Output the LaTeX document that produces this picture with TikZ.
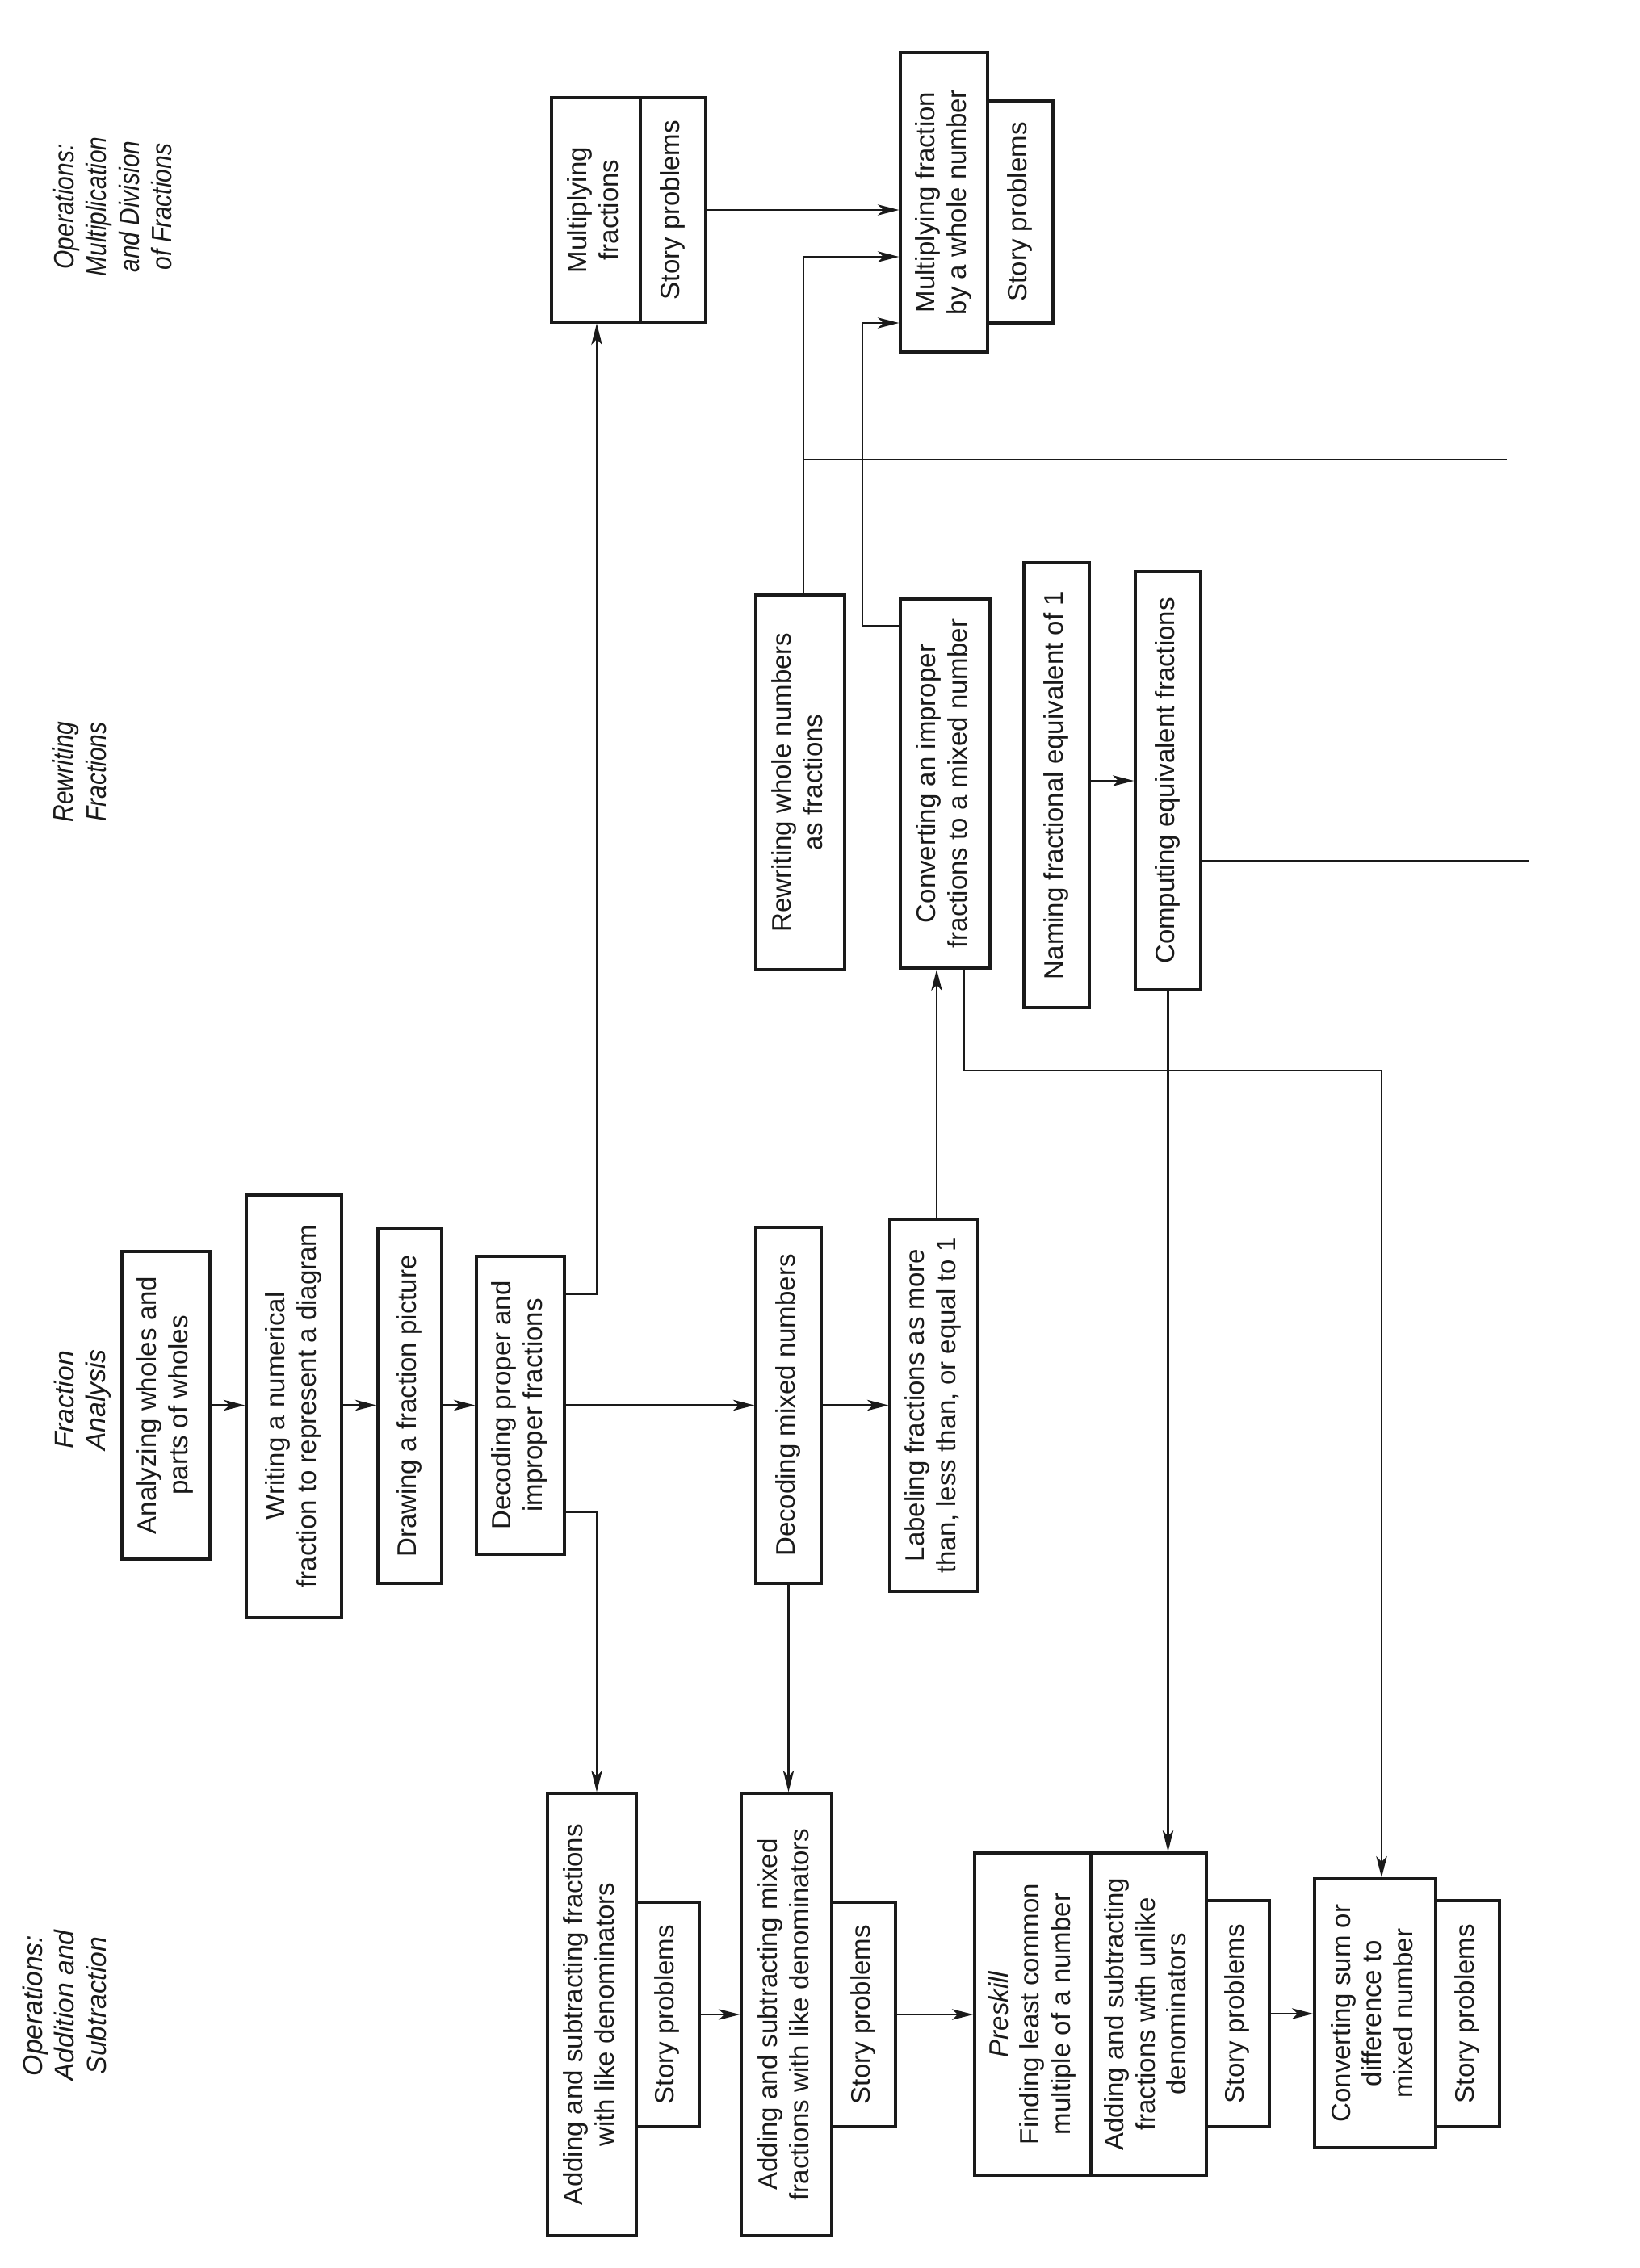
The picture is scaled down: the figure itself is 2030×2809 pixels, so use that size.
\documentclass[tikz,border=0pt]{standalone}
\usepackage{fontspec}
\setmainfont{Liberation Sans}
\newfontfamily\condfont[FakeStretch=0.86]{Liberation Sans}
\usetikzlibrary{arrows.meta}
\definecolor{ink}{HTML}{1A1A1A}
\newcommand\rt[1]{\rotatebox{90}{\begin{tabular}{@{}c@{}}#1\end{tabular}}}
\newcommand\bx[6]{\node[box, minimum width={(#4-#2)*0.1mm}, minimum height={(#5-#3)*0.1mm}] (#1) at ({(#2+#4)/2},{(#3+#5)/2}) {\rt{#6}};}
\begin{document}
\begin{tikzpicture}[x=0.1mm,y=-0.1mm,
  box/.style={draw=ink, line width=0.95pt, inner sep=0pt, text=ink,
    font=\fontsize{9.4}{11}\selectfont},
  head/.style={inner sep=0pt, text=ink, font=\fontsize{9.6}{11.2}\selectfont\itshape},
  conhead/.style={inner sep=0pt, text=ink, font=\fontsize{9.9}{11.4}\selectfont\condfont\itshape},
  ln/.style={draw=ink, line width=0.75pt},
  arr/.style={ln, -{Stealth[length=7.5pt, width=3.8pt, inset=2pt]}}]
\fill[white] (0,0) rectangle (2030,2809);
\useasboundingbox (0,0) rectangle (2030,2809);

% headings
\node[conhead] (h1) at (144,256) {\rt{Operations:\\Multiplication\\and Division\\of Fractions}};
\node[conhead] (h2) at (103,956) {\rt{Rewriting\\Fractions}};
\node[head] (h3) at (103,1734) {\rt{Fraction\\Analysis}};
\node[head] (h4) at (84,2484) {\rt{Operations:\\Addition and\\Subtraction}};

% fraction analysis row
\bx{A}{151}{1550}{260}{1931}{Analyzing wholes and\\parts of wholes}
\bx{B}{305}{1480}{423}{2003}{Writing a numerical\\fraction to represent a diagram}
\bx{C}{468}{1522}{547}{1961}{Drawing a fraction picture}
\bx{D}{590}{1556}{699}{1925}{Decoding proper and\\improper fractions}
\bx{E}{936}{1520}{1017}{1961}{Decoding mixed numbers}
\bx{F}{1102}{1510}{1211}{1971}{Labeling fractions as more\\than, less than, or equal to 1}

% rewriting row
\bx{G}{936}{737}{1046}{1201}{Rewriting whole numbers\\as fractions}
\bx{H}{1115}{742}{1226}{1199}{Converting an improper\\fractions to a mixed number}
\bx{I}{1268}{697}{1349}{1248}{Naming fractional equivalent of 1}
\bx{J}{1406}{708}{1487}{1226}{Computing equivalent fractions}

% multiplication row
\bx{K1}{683}{121}{793}{399}{Multiplying\\fractions}
\bx{K2}{793}{121}{874}{399}{Story problems}
\bx{Lt}{1223}{125}{1304}{400}{Story problems}
\bx{L}{1115}{65}{1223}{436}{Multiplying fraction\\by a whole number}

% addition row
\bx{Mt}{788}{2356}{866}{2634}{Story problems}
\bx{M}{678}{2221}{788}{2769}{Adding and subtracting fractions\\with like denominators}
\bx{Nt}{1030}{2356}{1109}{2634}{Story problems}
\bx{N}{918}{2221}{1030}{2769}{Adding and subtracting mixed\\fractions with like denominators}
\bx{O1}{1207}{2295}{1351}{2694}{\textit{Preskill}\\Finding least common\\multiple of a number}
\bx{O2}{1351}{2295}{1494}{2694}{Adding and subtracting\\fractions with unlike\\denominators}
\bx{Ot}{1494}{2354}{1572}{2634}{Story problems}
\bx{Pt}{1778}{2354}{1857}{2634}{Story problems}
\bx{P}{1628}{2327}{1778}{2660}{Converting sum or\\difference to\\mixed number}

% helper coordinates
\coordinate (v1) at (739,1603);
\coordinate (v2) at (739,1873);
\coordinate (h1a) at (1194,1326);
\coordinate (h2a) at (1711,1326);
\coordinate (g1) at (995,318);
\coordinate (g2) at (995,569);
\coordinate (gEnd) at (1866,569);
\coordinate (c1) at (1068,775);
\coordinate (c2) at (1068,400);
\coordinate (jEnd) at (1893,1066);
\coordinate (fx) at (1160,0);

% connectors
\draw[arr] (A.east) -- (A.east -| B.west);
\draw[arr] (B.east |- A.east) -- (A.east -| C.west);
\draw[arr] (C.east |- A.east) -- (A.east -| D.west);
\draw[arr] (D.east |- A.east) -- (A.east -| E.west);
\draw[arr] (E.east |- A.east) -- (A.east -| F.west);
\draw[arr] (D.east |- v1) -- (v1) -- (v1 |- K1.south);
\draw[arr] (D.east |- v2) -- (v2) -- (v2 |- M.north);
\draw[arr] (E.south) -- (E.south |- N.north);
\draw[arr] (fx |- F.north) -- (fx |- H.south);
\draw[arr] (h1a |- H.south) -- (h1a) -- (h2a) -- (h2a |- P.north);
\draw[arr] (J.south) -- (J.south |- O2.north);
\draw[arr] (J.west -| I.east) -- (J.west);
\draw[arr] (g1 |- G.north) -- (g1) -- (g1 -| L.west);
\draw[ln] (g2) -- (gEnd);
\draw[arr] (c1 -| H.west) -- (c1) -- (c2) -- (c2 -| L.west);
\draw[arr] (K2.east) -- (K2.east -| L.west);
\draw[ln] (J.east |- jEnd) -- (jEnd);
\draw[arr] (Mt.east) -- (Mt.east -| N.west);
\draw[arr] (Nt.east) -- (Nt.east -| O1.west);
\draw[arr] (Ot.east) -- (Ot.east -| P.west);
\end{tikzpicture}
\end{document}
